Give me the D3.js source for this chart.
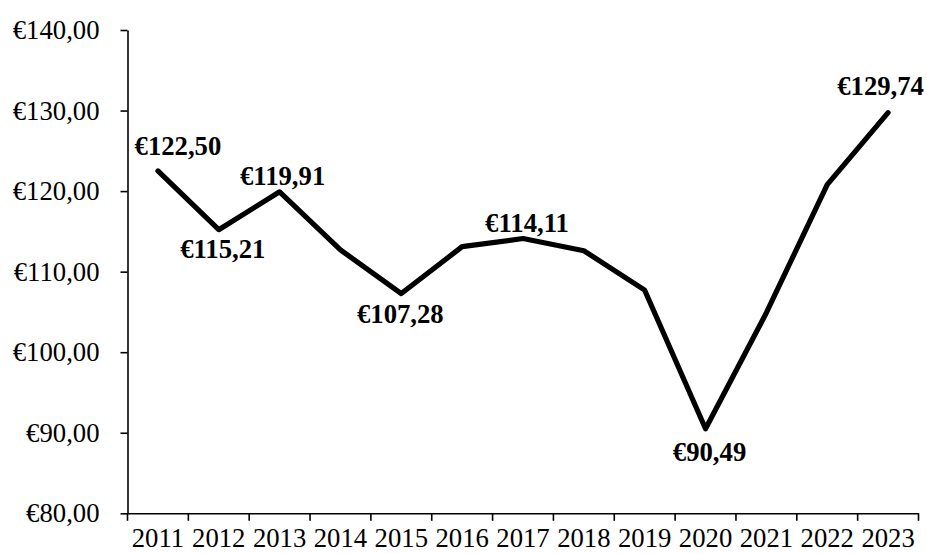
<!DOCTYPE html>
<html>
<head>
<meta charset="utf-8">
<script src="https://cdn.jsdelivr.net/npm/d3@7"></script>
<style>
  html, body { margin: 0; padding: 0; background: #fff; }
  svg { display: block; font-family: "Liberation Serif", "Times New Roman", serif; }
</style>
</head>
<body>
<svg id="chart" width="927" height="554"></svg>
<script>
// Yearly average price series
const years = [2011, 2012, 2013, 2014, 2015, 2016, 2017, 2018, 2019, 2020, 2021, 2022, 2023];
const prices = [122.50, 115.21, 119.91, 112.7, 107.28, 113.1, 114.11, 112.6, 107.7, 90.49, 104.9, 120.8, 129.74];
const yTicks = [80, 90, 100, 110, 120, 130, 140];

// Which points carry a value label, and where the label sits relative to its point
const labelledYears = [2011, 2012, 2013, 2015, 2017, 2020, 2023];
const labelOffsets = [[20, -16], [4, 28.5], [3, -7], [-1, 29], [4, -7], [4, 32.5], [-7.5, -18]];

const euro = d3.formatLocale({ decimal: ",", thousands: ".", grouping: [3], currency: ["€", ""] }).format("$.2f");

const svg = d3.select("#chart");
const plotLeft = 127.5, plotRight = 918.5, plotTop = 30, plotBottom = 513.3;
const fontSize = 26.7;

const x = d3.scaleBand().domain(years).range([plotLeft, plotRight]).padding(0);
const y = d3.scaleLinear().domain([80, 140]).range([plotBottom, plotTop]);
const cx = d => x(d) + x.bandwidth() / 2;

// Y axis
const yAxis = svg.append("g")
  .attr("transform", `translate(${plotLeft},0)`)
  .call(d3.axisLeft(y).tickValues(yTicks).tickFormat(euro).tickSize(7).tickSizeOuter(0).tickPadding(21));
yAxis.select(".domain").attr("stroke", "#000").attr("stroke-width", 1.6);
yAxis.selectAll(".tick line").attr("stroke", "#000").attr("stroke-width", 1.6);
yAxis.selectAll(".tick text").attr("font-size", fontSize).attr("font-family", "Liberation Serif, Times New Roman, serif").attr("fill", "#000");

// X axis: labels centred on categories, tick marks on category boundaries
const xAxis = svg.append("g")
  .attr("transform", `translate(0,${plotBottom})`)
  .call(d3.axisBottom(x).tickSize(0).tickSizeOuter(0).tickPadding(15));
xAxis.select(".domain").attr("stroke", "#000").attr("stroke-width", 1.6);
xAxis.selectAll(".tick text").attr("font-size", fontSize).attr("font-family", "Liberation Serif, Times New Roman, serif").attr("fill", "#000");

const boundaries = years.map(d => x(d)).concat([x(years[years.length - 1]) + x.bandwidth()]);
xAxis.selectAll(".boundary")
  .data(boundaries)
  .join("line")
  .attr("class", "boundary")
  .attr("x1", d => d).attr("x2", d => d)
  .attr("y1", 0).attr("y2", 7.5)
  .attr("stroke", "#000").attr("stroke-width", 1.6);

// Price line
const points = years.map((yr, i) => ({ year: yr, value: prices[i] }));
svg.append("path")
  .datum(points)
  .attr("fill", "none")
  .attr("stroke", "#000")
  .attr("stroke-width", 5.2)
  .attr("stroke-linejoin", "round")
  .attr("stroke-linecap", "round")
  .attr("d", d3.line().x(d => cx(d.year)).y(d => y(d.value)));

// Value labels
const labels = labelledYears.map((yr, i) => {
  const p = points.find(q => q.year === yr);
  return { ...p, dx: labelOffsets[i][0], dy: labelOffsets[i][1] };
});
svg.append("g")
  .selectAll("text")
  .data(labels)
  .join("text")
  .attr("x", d => cx(d.year) + d.dx)
  .attr("y", d => y(d.value) + d.dy)
  .attr("text-anchor", "middle")
  .attr("font-size", fontSize)
  .attr("font-weight", "bold")
  .attr("fill", "#000")
  .text(d => euro(d.value));
</script>
</body>
</html>
